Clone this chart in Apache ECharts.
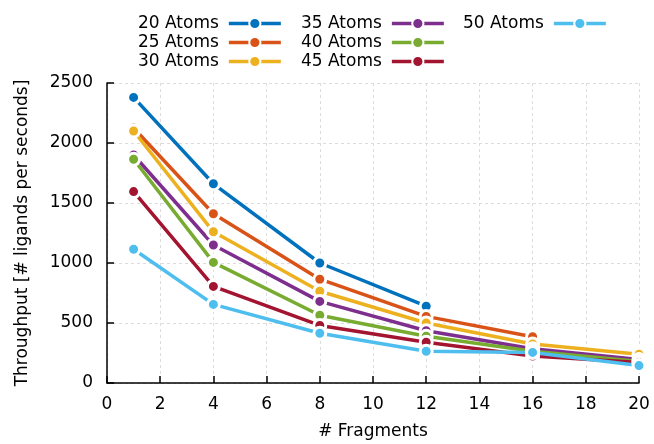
<!DOCTYPE html>
<html>
<head>
<meta charset="utf-8">
<script src="https://cdn.jsdelivr.net/npm/echarts@6/dist/echarts.min.js"></script>
<style>
	html,body{margin:0;padding:0;background:#fff;}
	#main{width:654px;height:444px;}
</style>
</head>
<body>
<div id="main"></div>
<script>
// x values
var fragments = [1, 4, 8, 12, 16, 20];
// series names + values
var names = ['20 Atoms', '25 Atoms', '30 Atoms', '35 Atoms', '40 Atoms', '45 Atoms', '50 Atoms'];
var atoms20 = [2380, 1660, 1000, 640];
var atoms25 = [2125, 1410, 865, 555, 385];
var atoms30 = [2100, 1260, 765, 500, 325, 240];
var atoms35 = [1900, 1150, 680, 435, 285, 195];
var atoms40 = [1865, 1005, 565, 390, 265, 180];
var atoms45 = [1595, 805, 480, 340, 225, 170];
var atoms50 = [1115, 655, 415, 265, 255, 145];
var colors = ['#0072BD', '#D95319', '#EDB120', '#7E2F8E', '#77AC30', '#A2142F', '#4DBEEE'];
var xTicks = [0, 2, 4, 6, 8, 10, 12, 14, 16, 18, 20];
var yTicks = [0, 500, 1000, 1500, 2000, 2500];

var font = 'DejaVu Sans';
var fs = 17;

function pairs(vals){
	var out = [];
	for(var i=0;i<vals.length;i++){
		out.push([fragments[i], vals[i]]);
	}
	return out;
}

function legendCol(left, data){
	return {
		orient: 'vertical',
		left: left,
		top: 9,
		align: 'right',
		itemWidth: 52,
		itemHeight: 14,
		itemGap: 0,
		data: data,
		lineStyle: {width: 3.5},
		textStyle: {
			fontFamily: font,
			fontSize: fs,
			color: '#000',
			lineHeight: 19,
			padding: [0, 5, 0, 0]
		}
	};
}

function chart(){
	var myChart = echarts.init(document.getElementById('main'));
	var all = [atoms20, atoms25, atoms30, atoms35, atoms40, atoms45, atoms50];
	var series = [];
	for(var i=0;i<all.length;i++){
		series.push({
			name: names[i],
			type: 'line',
			data: pairs(all[i]),
			symbol: 'circle',
			symbolSize: 12,
			color: colors[i],
			lineStyle: {width: 3.5, color: colors[i]},
			itemStyle: {color: colors[i], borderColor: '#fff', borderWidth: 3},
			animation: false
		});
	}
	var option = {
		animation: false,
		legend: [
			legendCol(133, names.slice(0, 3)),
			legendCol(296, names.slice(3, 6)),
			legendCol(458, names.slice(6))
		],
		grid: {left: 107, right: 15, top: 83, bottom: 61, outerBoundsMode: 'none'},
		xAxis: {
			type: 'value',
			min: xTicks[0],
			max: xTicks[xTicks.length-1],
			interval: 2,
			name: '# Fragments',
			nameLocation: 'middle',
			nameGap: 40,
			nameTextStyle: {fontFamily: font, fontSize: fs, color: '#000'},
			axisLine: {lineStyle: {color: '#000', width: 1.5}},
			axisTick: {inside: true, length: 7, lineStyle: {color: '#000', width: 1.5}},
			axisLabel: {fontFamily: font, fontSize: fs, color: '#000', margin: 13},
			splitLine: {show: true, lineStyle: {color: '#dcdcdc', type: [3, 3], width: 1}}
		},
		yAxis: {
			type: 'value',
			min: yTicks[0],
			max: yTicks[yTicks.length-1],
			interval: 500,
			name: 'Throughput [# ligands per seconds]',
			nameLocation: 'middle',
			nameGap: 76,
			nameTextStyle: {fontFamily: font, fontSize: fs, color: '#000'},
			axisLine: {show: true, lineStyle: {color: '#000', width: 1.5}},
			axisTick: {show: true, inside: true, length: 7, lineStyle: {color: '#000', width: 1.5}},
			axisLabel: {
				fontFamily: font, fontSize: fs, color: '#000', margin: 14,
				formatter: function(v){ return String(v); }
			},
			splitLine: {show: true, lineStyle: {color: '#dcdcdc', type: [3, 3], width: 1}}
		},
		series: series
	};
	myChart.setOption(option);
}
chart();
</script>
</body>
</html>
